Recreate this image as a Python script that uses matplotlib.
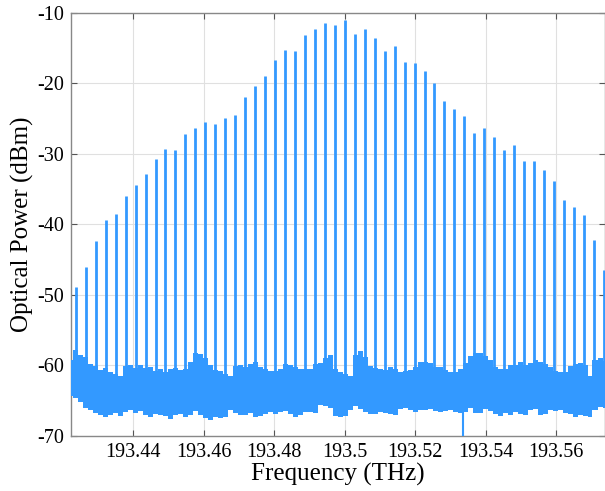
import matplotlib
matplotlib.use("Agg")
import matplotlib.pyplot as plt

# ---- comb lines (frequency THz, peak power dBm) ----
line_freq = [193.42367, 193.42650, 193.42933, 193.43215, 193.43498, 193.43781, 193.44063,
             193.44346, 193.44629, 193.44911, 193.45194, 193.45477, 193.45760, 193.46042,
             193.46325, 193.46608, 193.46890, 193.47173, 193.47456, 193.47738, 193.48021,
             193.48304, 193.48587, 193.48869, 193.49152, 193.49435, 193.49717, 193.50000,
             193.50283, 193.50565, 193.50848, 193.51131, 193.51414, 193.51696, 193.51979,
             193.52262, 193.52544, 193.52827, 193.53110, 193.53392, 193.53675, 193.53958,
             193.54241, 193.54523, 193.54806, 193.55089, 193.55371, 193.55654, 193.55937,
             193.56219, 193.56502, 193.56785, 193.57068, 193.57350]
line_peak = [-48.95, -46.1, -42.35, -39.4, -38.5, -36.0, -34.4, -32.9, -30.75, -29.3,
             -29.5, -27.2, -26.35, -25.5, -25.8, -25.0, -24.5, -21.95, -20.4, -18.98,
             -16.7, -15.3, -15.4, -13.1, -12.35, -11.46, -11.75,
             -10.99, -12.97, -12.35, -13.6, -15.4, -14.7, -17.05, -17.1, -18.3, -19.9,
             -22.5, -23.6, -24.7, -27.0, -26.35, -27.6, -29.5, -28.8, -31.1, -31.1,
             -32.3, -33.9, -36.6, -37.6, -38.7, -42.2, -46.5]

# ---- noise floor envelope ----
noise_freq = [193.42207, 193.42349, 193.42491, 193.42633, 193.42775, 193.42917, 193.43058,
              193.43200, 193.43342, 193.43484, 193.43626, 193.43768, 193.43909, 193.44051,
              193.44193, 193.44335, 193.44477, 193.44619, 193.44760, 193.44902, 193.45044,
              193.45186, 193.45328, 193.45470, 193.45611, 193.45753, 193.45895, 193.46037,
              193.46179, 193.46321, 193.46462, 193.46604, 193.46746, 193.46888, 193.47030,
              193.47172, 193.47313, 193.47455, 193.47597, 193.47739, 193.47881, 193.48023,
              193.48164, 193.48306, 193.48448, 193.48590, 193.48732, 193.48874, 193.49015,
              193.49157, 193.49299, 193.49441, 193.49583, 193.49725, 193.49867, 193.50009,
              193.50150, 193.50292, 193.50434, 193.50576, 193.50718, 193.50860, 193.51001,
              193.51143, 193.51285, 193.51427, 193.51569, 193.51711, 193.51852, 193.51994,
              193.52136, 193.52278, 193.52420, 193.52562, 193.52703, 193.52845, 193.52987,
              193.53129, 193.53271, 193.53413, 193.53554, 193.53696, 193.53838, 193.53980,
              193.54122, 193.54264, 193.54405, 193.54547, 193.54689, 193.54831, 193.54973,
              193.55115, 193.55256, 193.55398, 193.55540, 193.55682, 193.55824, 193.55966,
              193.56107, 193.56249, 193.56391, 193.56533, 193.56675, 193.56817, 193.56958,
              193.57100, 193.57242, 193.57384]
noise_upper = [-59.3, -57.8, -58.6, -58.8, -59.8, -60.1, -60.7, -60.4, -61.0, -61.3,
               -61.6, -60.1, -59.9, -60.4, -60.0, -60.4, -60.3, -60.8, -60.6, -60.9,
               -60.6, -60.4, -60.7, -60.5, -59.6, -58.2, -58.4, -59.0, -59.9, -60.7,
               -60.8, -61.2, -61.5, -60.1, -59.9, -60.2, -59.8, -59.6, -60.3, -60.5,
               -60.8, -60.8, -60.6, -59.8, -59.9, -60.2, -60.6, -60.5, -60.5, -59.8,
               -59.7, -59.0, -58.5, -60.5, -61.0, -61.3, -61.5, -58.6, -58.0, -58.9,
               -60.1, -60.4, -60.6, -60.7, -60.3, -60.6, -60.9, -60.8, -60.7, -60.2,
               -59.6, -59.5, -59.7, -60.2, -60.3, -60.7, -61.0, -61.0, -60.5, -59.7,
               -58.7, -58.2, -58.3, -58.7, -59.3, -60.3, -60.6, -60.5, -60.0, -59.9,
               -59.6, -59.9, -59.7, -59.3, -59.5, -59.8, -60.3, -60.8, -61.0, -60.9,
               -60.1, -59.8, -59.7, -60.0, -61.6, -59.2, -59.0, -59.4]
noise_lower = [-64.3, -64.6, -65.2, -66.0, -66.4, -66.8, -67.1, -67.3, -67.0, -66.8,
               -67.2, -66.6, -66.4, -66.8, -66.5, -67.0, -67.3, -66.9, -67.0, -67.2,
               -67.6, -67.0, -66.9, -67.3, -67.0, -66.5, -67.0, -67.5, -67.8, -67.4,
               -67.5, -67.3, -66.4, -66.8, -67.1, -67.0, -66.8, -67.3, -67.2, -66.9,
               -66.6, -66.9, -66.7, -66.5, -66.9, -67.3, -67.0, -66.6, -66.6, -66.8,
               -65.6, -65.8, -66.0, -67.2, -67.4, -67.2, -66.3, -65.8, -66.2, -66.6,
               -66.9, -66.9, -66.7, -66.8, -66.9, -67.0, -66.2, -66.0, -66.3, -66.6,
               -66.4, -66.3, -66.2, -66.5, -66.7, -66.5, -66.4, -66.6, -66.8, -66.6,
               -66.0, -66.8, -66.8, -66.2, -66.5, -66.9, -67.2, -66.8, -67.0, -66.7,
               -66.9, -67.1, -66.4, -66.2, -67.0, -66.9, -66.3, -66.5, -66.4, -66.8,
               -66.9, -67.3, -67.1, -67.2, -67.4, -66.4, -65.9, -66.0]

dip_freq = [193.5336]
dip_low = [-70.0]

x_ticks = [193.44, 193.46, 193.48, 193.50, 193.52, 193.54, 193.56]
x_tick_labels = ["193.44", "193.46", "193.48", "193.5", "193.52", "193.54", "193.56"]
y_ticks = [-70, -60, -50, -40, -30, -20, -10]

color = "#3399FF"
plt.rcParams["font.family"] = ["Liberation Serif", "DejaVu Serif"]
plt.rcParams["axes.unicode_minus"] = False

fig = plt.figure(figsize=(6.05, 4.91), dpi=100)
ax = fig.add_axes([0.1167, 0.1126, 0.8825, 0.8615])

ax.vlines(line_freq, -64.0, line_peak, color=color, linewidth=2.0, zorder=3)
ax.fill_between(noise_freq, noise_lower, noise_upper, step="mid", color=color,
                linewidth=0.0, zorder=3)
ax.vlines(dip_freq, dip_low, -66.0, color=color, linewidth=1.5, zorder=3)

ax.set_xlim(193.4222, 193.5737)
ax.set_ylim(-70, -10)
ax.set_xticks(x_ticks)
ax.set_xticklabels(x_tick_labels)
ax.set_yticks(y_ticks)
ax.grid(True, color="#e0e0e0", linewidth=0.8, zorder=0)
ax.set_axisbelow(True)
ax.tick_params(direction="in", length=4, width=0.8, color="#555555",
               top=True, right=True, labelsize=14.5, pad=5)
for s in ax.spines.values():
    s.set_color("#888888")
    s.set_linewidth(1.0)

ax.set_xlabel("Frequency (THz)", fontsize=18, labelpad=1)
ax.set_ylabel("Optical Power (dBm)", fontsize=18, labelpad=2)

fig.savefig("out.png", dpi=100)
